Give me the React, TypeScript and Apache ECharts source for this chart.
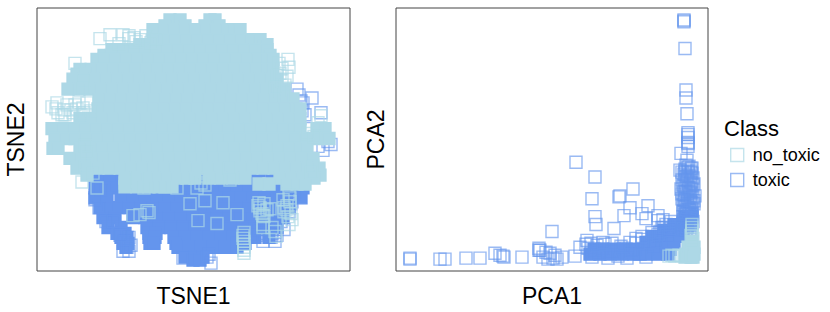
import React, { useEffect, useRef } from "react";
import * as echarts from "echarts";

const LIGHT = "#ADD8E6";
const BLUE = "#6495ED";
const LIGHT_A = "rgba(173,216,230,0.7)";
const BLUE_A = "rgba(100,149,237,0.65)";

const tsneAxisNames = ["TSNE1", "TSNE2"];
const pcaAxisNames = ["PCA1", "PCA2"];
const classNames = ["no_toxic", "toxic"];
const legendTitle = "Class";

type Row = [number, number[]];
// Dense overplotted mass: [TSNE2, TSNE1 values]
const tsneToxicMass: Row[] = [
  [94, [62, 73, 85, 97, 110, 122, 135, 148, 160, 172, 185, 198, 210, 222, 235, 248, 262]],
  [84, [58, 69, 80, 92, 104, 116, 128, 140, 152, 164, 176, 188, 200, 212, 224, 236, 248, 258, 266]],
  [74, [58, 70, 84, 96, 108, 120, 132, 144, 156, 168, 180, 192, 204, 216, 228, 240, 250, 264]],
  [64, [63, 72, 82, 92, 104, 116, 128, 140, 152, 164, 176, 188, 200, 212, 222, 232, 244, 252]],
  [54, [66, 78, 96, 108, 120, 132, 144, 156, 168, 180, 192, 204, 216, 225, 236, 246]],
  [44, [71, 84, 110, 122, 134, 146, 158, 170, 182, 194, 206, 218, 230, 240]],
  [38, [80, 88, 112, 119]],
  [34, [84, 90, 112, 118, 137, 148, 160, 172, 184, 196, 207, 218, 232]],
  [28, [86, 91, 113, 117, 139, 200, 208]],
  [24, [89, 141, 152, 164, 176, 188, 200]],
  [14, [148, 158, 166]],
  [11, [156, 163]],
];
const tsneNoToxicMass: Row[] = [
  [254, [133, 143, 173, 178]],
  [248, [128, 148, 168, 182]],
  [244, [116, 127, 137, 148, 158, 169, 179, 190, 197, 203]],
  [234, [116, 127, 138, 149, 160, 171, 182, 193, 204, 214, 223]],
  [229, [103, 110, 226, 230]],
  [224, [75, 86, 97, 108, 119, 130, 141, 152, 163, 174, 185, 196, 207, 218, 230]],
  [218, [67, 74, 233]],
  [214, [60, 67, 78, 89, 100, 111, 122, 133, 144, 155, 166, 177, 188, 199, 210, 221, 230, 236]],
  [204, [43, 54, 65, 76, 87, 98, 109, 120, 131, 142, 153, 164, 175, 186, 197, 208, 219, 230, 236]],
  [199, [40, 48]],
  [194, [36, 47, 58, 69, 80, 91, 102, 113, 124, 135, 146, 157, 168, 179, 190, 201, 212, 223, 234, 240]],
  [184, [31, 42, 53, 64, 75, 86, 97, 108, 119, 130, 141, 152, 163, 174, 185, 196, 207, 218, 229, 240, 247]],
  [174, [62, 73, 84, 95, 106, 117, 128, 139, 150, 161, 172, 183, 194, 205, 216, 227, 238, 249, 256]],
  [164, [61, 72, 83, 94, 105, 116, 127, 138, 149, 160, 171, 182, 193, 204, 215, 226, 237, 248, 259, 263]],
  [154, [43, 54, 65, 76, 87, 98, 109, 120, 131, 142, 153, 164, 175, 186, 197, 208, 219, 230, 241, 252, 263]],
  [144, [15, 26, 37, 48, 59, 70, 81, 92, 103, 114, 125, 136, 147, 158, 169, 180, 191, 202, 213, 224, 235, 246, 257, 263, 280, 288]],
  [134, [18, 29, 38, 49, 60, 71, 82, 93, 104, 115, 126, 137, 148, 159, 170, 181, 192, 203, 214, 225, 236, 247, 258, 269, 281, 292]],
  [124, [16, 21, 43, 54, 65, 76, 87, 98, 109, 120, 131, 142, 153, 164, 175, 186, 197, 208, 219, 230, 241, 252, 263, 270]],
  [114, [33, 44, 55, 66, 77, 88, 99, 110, 121, 132, 143, 154, 165, 176, 187, 198, 209, 220, 231, 242, 253, 264, 276]],
  [104, [40, 50, 61, 72, 83, 94, 105, 116, 127, 138, 149, 160, 171, 182, 193, 204, 215, 226, 237, 248, 259, 270, 282]],
  [97, [50, 276, 283]],
  [94, [88, 99, 110, 121, 130, 140, 150, 158, 172, 184, 196, 208, 243, 254, 265, 277]],
  [85, [88, 100, 112, 122, 128, 135]],
  [88, [222, 232, 250, 260, 268]],
];
// Individually visible outlines
const tsneToxicPointsX = [291, 294, 286, 281, 268, 266, 275, 284, 273, 62, 64, 69, 58, 76, 83, 88, 92, 94, 86, 146, 170, 174, 172, 240, 247, 252, 255, 235, 225, 238, 60, 66, 54, 62, 70, 262, 264, 265, 260, 87, 90, 84, 92, 262, 258, 254, 222, 228, 234, 240, 226, 232, 238, 244, 220];
const tsneToxicPointsY = [131, 128, 122, 126, 158, 170, 175, 160, 144, 64, 82, 50, 72, 50, 36, 30, 34, 26, 20, 13, 14, 8, 17, 36, 42, 60, 70, 38, 46, 30, 118, 122, 128, 196, 205, 178, 172, 162, 184, 30, 24, 36, 20, 88, 78, 68, 42, 38, 34, 46, 30, 44, 39, 50, 36];
const tsneNoToxicPointsX = [251, 284, 271, 277, 153, 168, 161, 180, 186, 200, 110, 112, 96, 103, 223, 226, 233, 222, 60, 88, 101, 107, 45, 38, 63, 73, 86, 92, 97, 193, 192, 140, 160, 48, 56, 47, 46, 276, 274, 253, 250, 247, 251, 255, 252, 206, 207, 207, 207, 206, 207, 207, 207, 227, 226, 230, 227, 235, 238, 239, 19, 21, 15, 27, 34, 40, 46, 54, 47, 48, 50, 281, 82, 92, 99, 103, 109, 114, 120, 164, 168,
  245, 243, 248, 250, 243, 247, 252, 240, 245, 238, 242, 25, 30, 36, 42, 20, 28, 38, 44, 50, 223, 225, 221, 226, 253, 249, 246, 252, 247, 254];
const tsneNoToxicPointsY = [214, 157, 139, 136, 68, 71, 51, 48, 69, 57, 61, 59, 56, 57, 61, 44, 63, 69, 84, 89, 94, 84, 90, 210, 235, 239, 239, 238, 236, 92, 104, 84, 84, 106, 99, 192, 185, 106, 100, 74, 66, 60, 55, 52, 47, 33, 30, 27, 24, 36, 21, 39, 18, 55, 47, 62, 68, 44, 40, 35, 164, 160, 166, 163, 163, 164, 165, 162, 160, 127, 120, 150, 230, 235, 232, 234, 238, 231, 235, 89, 87,
  192, 200, 188, 197, 182, 178, 206, 198, 205, 186, 210, 158, 168, 160, 170, 170, 158, 168, 158, 170, 64, 58, 66, 56, 70, 62, 72, 78, 64, 58];

const pcaToxicMass: Row[] = [
  [17, [194, 204, 214, 226, 238, 250, 262, 272]],
  [22, [198, 206, 218, 230, 240, 252, 264, 274]],
  [29, [250, 260, 270, 278]],
  [35, [256, 268, 278, 284]],
  [41, [268, 275, 283]],
  [47, [278, 284, 292]],
  [55, [289, 296]],
];
const pcaToxicPointsX = [
  288, 288, 288, 289, 290, 290, 291, 292, 292, 292, 292, 292, 292, 285, 291, 284, 286,
  292, 295, 289, 296, 293, 290, 286, 291, 295, 288, 293, 297, 290, 285, 294, 299, 292, 288, 286, 294, 296, 291, 289, 298, 293, 287, 290, 295, 292, 288, 296, 291, 294, 285, 291, 287, 297,
  180, 199, 196, 223, 224, 237, 234, 199, 200, 228, 218, 252, 246, 250, 262, 262, 156, 191, 143, 144, 14, 14, 44, 49, 70, 84, 99, 104, 107, 108, 126,
  147, 150, 154, 157, 159, 161, 166, 143, 152, 179, 184, 192, 196, 199, 203, 207, 212, 216, 222, 227, 231, 237, 244, 250, 258, 235, 240, 246, 254, 260, 264, 256, 260, 266, 272, 270, 275, 264, 268, 267, 272, 262, 274,
  190, 195, 201, 209, 216, 225, 234, 207, 240, 246,
];
const pcaToxicPointsY = [
  253, 252, 254, 225, 183, 175, 159, 140, 138, 135, 130, 129, 126, 119, 112, 102, 100,
  105, 104, 101, 99, 97, 96, 92, 93, 90, 86, 84, 87, 80, 83, 80, 76, 74, 72, 78, 70, 69, 66, 65, 71, 62, 60, 58, 58, 55, 52, 54, 49, 47, 42, 44, 48, 50,
  110, 95, 73, 75, 76, 83, 64, 55, 47, 56, 43, 66, 58, 53, 56, 51, 40, 31, 23, 21, 12, 13, 12, 12, 13, 13, 18, 16, 15, 14, 14,
  14, 19, 18, 13, 16, 12, 14, 21, 12, 15, 24, 23, 14, 20, 18, 22, 13, 19, 15, 23, 13, 21, 17, 14, 24, 20, 28, 32, 29, 30, 35, 39, 34, 44, 41, 47, 50, 40, 44, 52, 35, 37, 43,
  27, 28, 26, 27, 28, 25, 29, 29, 33, 35,
];
const pcaColumnX = [290, 293, 296, 289, 292, 295, 288, 291, 294, 297, 289, 292, 295, 298, 287, 290, 293, 296, 289, 292, 295, 288, 291, 294, 297, 286, 289, 292, 295, 298, 287, 290, 293, 296, 291, 294, 288, 292, 296, 289, 293, 287, 291, 295, 290, 294, 288, 292, 296, 289, 293, 291, 295, 287, 290, 294];
const pcaColumnY = [107, 106, 104, 103, 101, 100, 98, 96, 95, 94, 92, 91, 89, 88, 87, 85, 84, 83, 81, 80, 79, 77, 76, 75, 74, 73, 71, 70, 69, 68, 67, 66, 64, 63, 62, 61, 60, 59, 58, 57, 56, 55, 54, 53, 52, 51, 50, 49, 48, 47, 46, 45, 44, 43, 42, 41];
const pcaNoToxicMass: Row[] = [
  [17, [296, 290, 298]],
  [14, [295, 289, 297]],
  [24, [292, 298]],
  [30, [296]],
];
const pcaNoToxicPointsX = [273, 276, 279, 283, 286, 296, 296, 296, 296, 295, 297, 296];
const pcaNoToxicPointsY = [15, 16, 15, 16, 15, 47, 44, 41, 38, 36, 33, 30];

const rowsToPoints = (rows: Row[]) =>
  rows.flatMap(([y, xs]) => xs.map((x) => [x, y]));
const zip = (xs: number[], ys: number[]) => xs.map((x, i) => [x, ys[i]]);

const mass = (name: string, color: string, data: number[][], i: number) => ({
  type: "scatter", name, xAxisIndex: i, yAxisIndex: i, data, silent: true,
  symbol: "rect", symbolSize: 12,
  itemStyle: { color, borderColor: color, borderWidth: 1.3, opacity: 1 },
});
const outline = (name: string, stroke: string, data: number[][], i: number) => ({
  type: "scatter", name, xAxisIndex: i, yAxisIndex: i, data, silent: true,
  symbol: "rect", symbolSize: 12,
  itemStyle: { color: "rgba(0,0,0,0)", borderColor: stroke, borderWidth: 1.4, opacity: 1 },
});

const axisBase = {
  type: "value", nameLocation: "middle",
  nameTextStyle: { fontFamily: "Liberation Sans", fontSize: 23, color: "#000" },
  axisLine: { show: false }, axisTick: { show: false },
  axisLabel: { show: false }, splitLine: { show: false },
};

export default function App() {
  const ref = useRef<HTMLDivElement>(null);
  useEffect(() => {
    const chart = echarts.init(ref.current!, null, { renderer: "svg" });
    chart.setOption({
      animation: false,
      backgroundColor: "#fff",
      grid: [
        { left: 37, top: 8, width: 313, height: 266, show: true, borderColor: "#444", borderWidth: 1, backgroundColor: "transparent" },
        { left: 396, top: 8, width: 312, height: 266, show: true, borderColor: "#444", borderWidth: 1, backgroundColor: "transparent" },
      ],
      xAxis: [
        { ...axisBase, gridIndex: 0, min: 0, max: 313, name: tsneAxisNames[0], nameGap: 13 },
        { ...axisBase, gridIndex: 1, min: 0, max: 312, name: pcaAxisNames[0], nameGap: 13 },
      ],
      yAxis: [
        { ...axisBase, gridIndex: 0, min: 0, max: 266, name: tsneAxisNames[1], nameGap: 10 },
        { ...axisBase, gridIndex: 1, min: 0, max: 266, name: pcaAxisNames[1], nameGap: 9 },
      ],
      legend: {
        left: 725, top: 141, orient: "vertical", icon: "rect", itemWidth: 13, itemHeight: 13,
        itemGap: 7, selectedMode: false,
        textStyle: { fontFamily: "Liberation Sans", fontSize: 18, color: "#000", padding: [0, 0, 0, 4] },
        data: [
          { name: classNames[0], icon: "rect", itemStyle: { color: "rgba(0,0,0,0)", borderColor: LIGHT_A, borderWidth: 1.4 } },
          { name: classNames[1], icon: "rect", itemStyle: { color: "rgba(0,0,0,0)", borderColor: BLUE_A, borderWidth: 1.4 } },
        ],
      },
      graphic: [
        { type: "text", left: 724, top: 117, style: { text: legendTitle, font: "22px 'Liberation Sans'", fill: "#000" } },
      ],
      series: [
        mass(classNames[1], BLUE, rowsToPoints(tsneToxicMass), 0),
        outline(classNames[1], BLUE_A, zip(tsneToxicPointsX, tsneToxicPointsY), 0),
        mass(classNames[0], LIGHT, rowsToPoints(tsneNoToxicMass), 0),
        outline(classNames[0], LIGHT_A, zip(tsneNoToxicPointsX, tsneNoToxicPointsY), 0),
        mass(classNames[1], BLUE, rowsToPoints(pcaToxicMass), 1),
        outline(classNames[1], BLUE_A, zip(pcaToxicPointsX, pcaToxicPointsY), 1),
        outline(classNames[1], BLUE_A, zip(pcaColumnX, pcaColumnY), 1),
        mass(classNames[0], LIGHT, rowsToPoints(pcaNoToxicMass), 1),
        outline(classNames[0], LIGHT_A, zip(pcaNoToxicPointsX, pcaNoToxicPointsY), 1),
      ],
    });
    return () => chart.dispose();
  }, []);
  return <div ref={ref} style={{ position: "absolute", left: 0, top: 0, width: 830, height: 312 }} />;
}
